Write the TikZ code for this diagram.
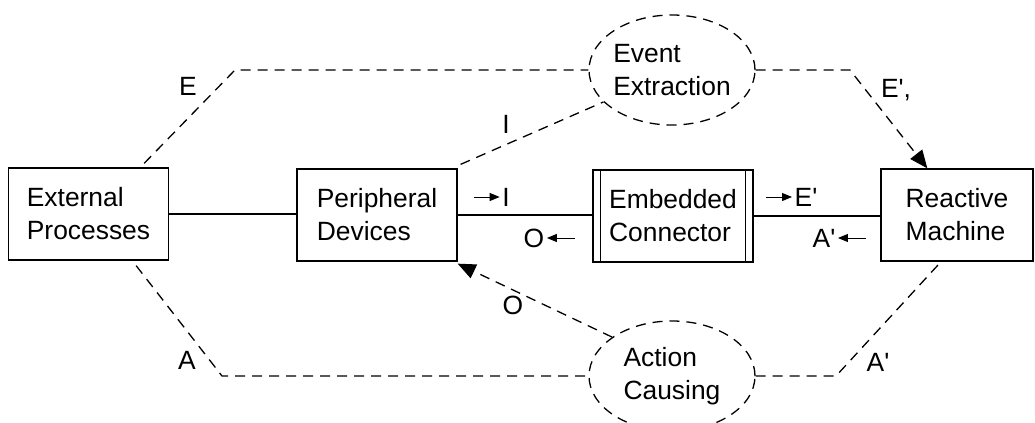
\documentclass[tikz,border=0pt]{standalone}
\usepackage{fontspec}
\setmainfont{Liberation Sans}[Ligatures=TeXOff]
\usetikzlibrary{arrows.meta,shapes.geometric,calc}

\begin{document}
\begin{tikzpicture}[x=0.5pt,y=-0.5pt,line width=0.65pt,font=\fontsize{13.2}{16.5}\selectfont]
    \tikzstyle{blk}=[draw,fill=white,align=left,minimum width=80pt,minimum height=46pt,inner sep=0pt]
    \tikzstyle{task}=[draw,ellipse,align=left,minimum width=83pt,minimum height=55pt,inner sep=0pt,dash pattern=on 5pt off 3.5pt]
    \tikzstyle{sig}=[dash pattern=on 5pt off 3.5pt]
    \tikzstyle{big}=[-{Triangle[length=9pt,width=7.5pt]}]
    \tikzstyle{flow}=[-{Triangle[length=5pt,width=4pt]},line width=0.5pt]
    \tikzstyle{lbl}=[inner sep=1pt]

    \useasboundingbox (0,0) rectangle (1035,423);

    % the chain of blocks
    \node[blk] (ext) at (88.5,214) {External\\Processes};
    \node[blk] (per) at (377,215)  {Peripheral\\Devices};
    \node[blk] (emb) at (673,216)  {Embedded\\Connector};
    \node[blk,minimum width=76pt] (rm) at (957,215) {Reactive\\Machine};
    \draw ($(emb.north west)+(8,0)$) -- ($(emb.south west)+(8,0)$)
          ($(emb.north east)+(-8,0)$) -- ($(emb.south east)+(-8,0)$);

    \node[task] (ev)  at (672,70)  {Event\\Extraction};
    \node[task] (act) at (672,376) {Action\\Causing};

    \draw (ext.east) -- (ext.east -| per.west);
    \draw (per.east) -- (emb.west |- per.east);
    \draw (emb.east) -- (rm.west |- emb.east);

    % arrows along the chain
    \node[lbl] (inI)  at (506,197) {I};
    \node[lbl] (inE)  at (806,197) {E'};
    \node[lbl] (outO) at (534,238) {O};
    \node[lbl] (outA) at (824,238) {A'};
    \draw[flow] ($(inI.west)+(-26,0)$) -- (inI.west);
    \draw[flow] ($(inE.west)+(-26,0)$) -- (inE.west);
    \draw[flow] ($(outO.east)+(28,0)$) -- (outO.east);
    \draw[flow] ($(outA.east)+(28,0)$) -- (outA.east);

    % event side
    \coordinate (eTop)   at (235,70);
    \coordinate (eRight) at (850,70);
    \draw[sig] ($(ext.north east)+(-25,-4)$) -- (eTop) -- (ev.west);
    \draw[sig,big] (ev.east) -- (eRight) -- ($(rm.north west)+(47,0)$);
    \draw[sig] ($(per.north east)+(3,-4)$) -- (ev.205);
    \node[lbl] (lE)  at (188,86)  {E};
    \node[lbl] (lI)  at (506,124) {I};
    \node[lbl] (lEp) at (896,90)  {E',};

    % action side
    \coordinate (aLeft)  at (222,376);
    \coordinate (aRight) at (836,376);
    \draw[sig] ($(ext.south east)+(-33,5)$) -- (aLeft) -- (act.west);
    \draw[sig] (act.east) -- (aRight) -- ($(rm.south west)+(58,3)$);
    \draw[sig,big] (act.147) -- ($(per.south east)+(0,2)$);
    \node[lbl] (lO)  at (513,305) {O};
    \node[lbl] (lA)  at (187,360) {A};
    \node[lbl] (lAp) at (878,362) {A'};
\end{tikzpicture}
\end{document}
